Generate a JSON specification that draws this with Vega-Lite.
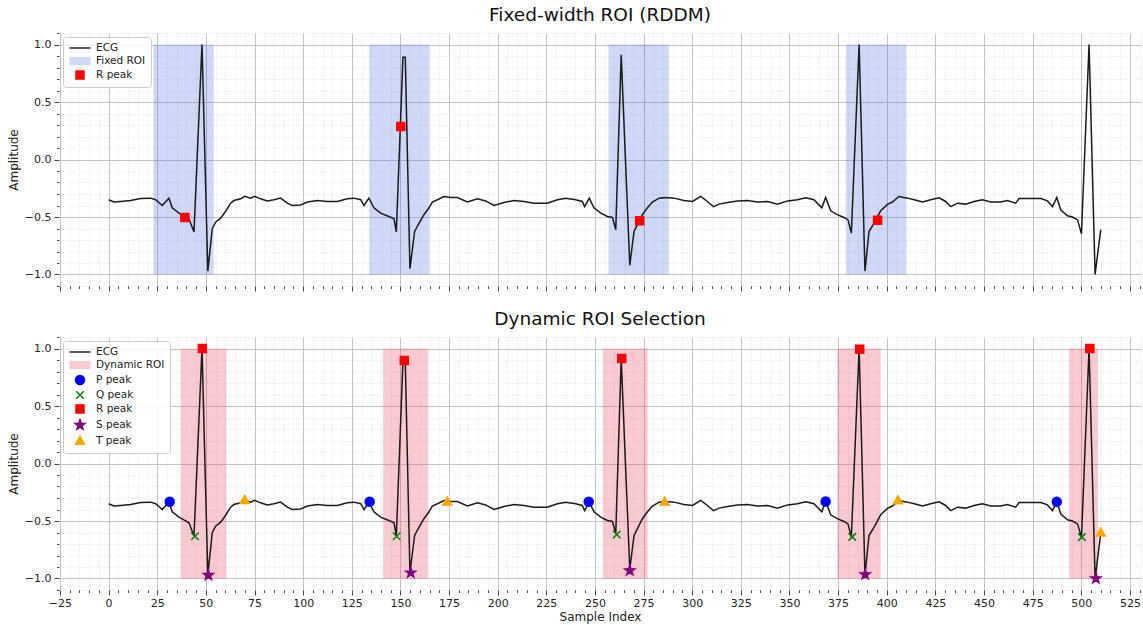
{
  "$schema": "https://vega.github.io/schema/vega-lite/v6.json",
  "padding": {"top": 5, "left": 7, "right": 2, "bottom": 2},
  "config": {
    "font": "DejaVu Sans",
    "view": {"stroke": null},
    "title": {"font": "DejaVu Sans", "fontSize": 18.5, "fontWeight": "normal", "color": "#111", "offset": 3},
    "axis": {"labelFont": "DejaVu Sans", "titleFont": "DejaVu Sans", "labelFontSize": 11, "titleFontSize": 12, "titleFontWeight": "normal", "labelColor": "#222", "titleColor": "#222", "tickColor": "#444", "domain": false, "tickCount": 1000}
  },
  "spacing": 17,
  "resolve": {
    "scale": {"fill": "independent", "stroke": "independent", "shape": "independent"},
    "legend": {"fill": "independent", "stroke": "independent", "shape": "independent"}
  },
  "datasets": {
    "ecg": [
      {"sample": 0, "amplitude": -0.35}, {"sample": 2.7, "amplitude": -0.37}, {"sample": 6.2, "amplitude": -0.365}, {"sample": 11.3, "amplitude": -0.357}, {"sample": 16.5, "amplitude": -0.34}, {"sample": 21.6, "amplitude": -0.336}, {"sample": 24.2, "amplitude": -0.35}, {"sample": 27.6, "amplitude": -0.4}, {"sample": 31, "amplitude": -0.336}, {"sample": 32.7, "amplitude": -0.42}, {"sample": 36.2, "amplitude": -0.467}, {"sample": 38.7, "amplitude": -0.49}, {"sample": 41.3, "amplitude": -0.516}, {"sample": 43.9, "amplitude": -0.63}, {"sample": 48, "amplitude": 1.0}, {"sample": 51, "amplitude": -0.97}, {"sample": 53.3, "amplitude": -0.6}, {"sample": 55, "amplitude": -0.545}, {"sample": 57.6, "amplitude": -0.51}, {"sample": 60.2, "amplitude": -0.45}, {"sample": 62.7, "amplitude": -0.38}, {"sample": 64.4, "amplitude": -0.357}, {"sample": 67.9, "amplitude": -0.342}, {"sample": 69.9, "amplitude": -0.32}, {"sample": 73, "amplitude": -0.336}, {"sample": 75, "amplitude": -0.32}, {"sample": 78.1, "amplitude": -0.342}, {"sample": 81.6, "amplitude": -0.36}, {"sample": 85, "amplitude": -0.35}, {"sample": 88.4, "amplitude": -0.336}, {"sample": 91.9, "amplitude": -0.38}, {"sample": 94.4, "amplitude": -0.4}, {"sample": 98.7, "amplitude": -0.395}, {"sample": 102.2, "amplitude": -0.37}, {"sample": 107.3, "amplitude": -0.357}, {"sample": 112.4, "amplitude": -0.365}, {"sample": 117.6, "amplitude": -0.365}, {"sample": 122.7, "amplitude": -0.342}, {"sample": 126.1, "amplitude": -0.336}, {"sample": 129.6, "amplitude": -0.35}, {"sample": 131.3, "amplitude": -0.4}, {"sample": 133.8, "amplitude": -0.336}, {"sample": 136.4, "amplitude": -0.42}, {"sample": 139.8, "amplitude": -0.467}, {"sample": 144.1, "amplitude": -0.496}, {"sample": 146.7, "amplitude": -0.516}, {"sample": 147.9, "amplitude": -0.63}, {"sample": 151.3, "amplitude": 0.89}, {"sample": 152.5, "amplitude": 0.89}, {"sample": 154.9, "amplitude": -0.95}, {"sample": 157.3, "amplitude": -0.626}, {"sample": 159.6, "amplitude": -0.554}, {"sample": 162.1, "amplitude": -0.48}, {"sample": 164.7, "amplitude": -0.42}, {"sample": 166.4, "amplitude": -0.37}, {"sample": 169, "amplitude": -0.35}, {"sample": 172.4, "amplitude": -0.322}, {"sample": 175.8, "amplitude": -0.33}, {"sample": 179.3, "amplitude": -0.33}, {"sample": 184.4, "amplitude": -0.37}, {"sample": 189.6, "amplitude": -0.342}, {"sample": 193.8, "amplitude": -0.36}, {"sample": 198.1, "amplitude": -0.4}, {"sample": 203.2, "amplitude": -0.374}, {"sample": 208.4, "amplitude": -0.357}, {"sample": 213.5, "amplitude": -0.365}, {"sample": 218.7, "amplitude": -0.38}, {"sample": 225.5, "amplitude": -0.38}, {"sample": 230.7, "amplitude": -0.35}, {"sample": 235, "amplitude": -0.336}, {"sample": 240.1, "amplitude": -0.35}, {"sample": 243.5, "amplitude": -0.365}, {"sample": 244.7, "amplitude": -0.41}, {"sample": 247.1, "amplitude": -0.336}, {"sample": 249.5, "amplitude": -0.42}, {"sample": 253, "amplitude": -0.467}, {"sample": 256.4, "amplitude": -0.496}, {"sample": 259, "amplitude": -0.504}, {"sample": 260.7, "amplitude": -0.61}, {"sample": 263.5, "amplitude": 0.91}, {"sample": 267.9, "amplitude": -0.92}, {"sample": 270.1, "amplitude": -0.626}, {"sample": 271.8, "amplitude": -0.568}, {"sample": 274.4, "amplitude": -0.48}, {"sample": 277, "amplitude": -0.42}, {"sample": 279.5, "amplitude": -0.37}, {"sample": 283, "amplitude": -0.336}, {"sample": 286.4, "amplitude": -0.33}, {"sample": 290.6, "amplitude": -0.336}, {"sample": 295.8, "amplitude": -0.357}, {"sample": 300.1, "amplitude": -0.365}, {"sample": 304.4, "amplitude": -0.32}, {"sample": 307.8, "amplitude": -0.365}, {"sample": 310.9, "amplitude": -0.41}, {"sample": 313.8, "amplitude": -0.388}, {"sample": 318.1, "amplitude": -0.374}, {"sample": 323.2, "amplitude": -0.36}, {"sample": 328.4, "amplitude": -0.357}, {"sample": 333.5, "amplitude": -0.37}, {"sample": 338.7, "amplitude": -0.365}, {"sample": 343.8, "amplitude": -0.388}, {"sample": 349, "amplitude": -0.36}, {"sample": 354.1, "amplitude": -0.35}, {"sample": 358.4, "amplitude": -0.333}, {"sample": 362.6, "amplitude": -0.35}, {"sample": 366.6, "amplitude": -0.42}, {"sample": 368.6, "amplitude": -0.33}, {"sample": 371.2, "amplitude": -0.446}, {"sample": 374.6, "amplitude": -0.48}, {"sample": 378, "amplitude": -0.504}, {"sample": 380.1, "amplitude": -0.525}, {"sample": 381.8, "amplitude": -0.64}, {"sample": 385.8, "amplitude": 1.0}, {"sample": 388.8, "amplitude": -0.97}, {"sample": 390.9, "amplitude": -0.626}, {"sample": 393.5, "amplitude": -0.554}, {"sample": 396.9, "amplitude": -0.446}, {"sample": 400.4, "amplitude": -0.39}, {"sample": 402.9, "amplitude": -0.37}, {"sample": 406.3, "amplitude": -0.322}, {"sample": 410.6, "amplitude": -0.336}, {"sample": 414.1, "amplitude": -0.35}, {"sample": 418.4, "amplitude": -0.37}, {"sample": 422.6, "amplitude": -0.35}, {"sample": 426.9, "amplitude": -0.333}, {"sample": 430.3, "amplitude": -0.365}, {"sample": 432.9, "amplitude": -0.41}, {"sample": 436.4, "amplitude": -0.38}, {"sample": 440.6, "amplitude": -0.388}, {"sample": 444.9, "amplitude": -0.365}, {"sample": 449.2, "amplitude": -0.35}, {"sample": 453.5, "amplitude": -0.37}, {"sample": 458.6, "amplitude": -0.37}, {"sample": 462, "amplitude": -0.357}, {"sample": 466.3, "amplitude": -0.38}, {"sample": 468, "amplitude": -0.34}, {"sample": 474, "amplitude": -0.34}, {"sample": 479.2, "amplitude": -0.34}, {"sample": 482.6, "amplitude": -0.36}, {"sample": 485.2, "amplitude": -0.41}, {"sample": 487.4, "amplitude": -0.33}, {"sample": 489.5, "amplitude": -0.44}, {"sample": 492.9, "amplitude": -0.49}, {"sample": 495.5, "amplitude": -0.5}, {"sample": 498.1, "amplitude": -0.525}, {"sample": 500.1, "amplitude": -0.646}, {"sample": 504, "amplitude": 1.0}, {"sample": 507.1, "amplitude": -1.0}, {"sample": 510, "amplitude": -0.61}
    ],
    "fixed_roi": [
      {"start": 23, "end": 54}, {"start": 134, "end": 165}, {"start": 257, "end": 288}, {"start": 379, "end": 410}
    ],
    "dynamic_roi": [
      {"start": 37, "end": 60.6}, {"start": 141.1, "end": 164.4}, {"start": 254, "end": 277.1}, {"start": 374.6, "end": 396.9}, {"start": 493.7, "end": 508.6}
    ],
    "fixed_peaks": [
      {"sample": 39.2, "amplitude": -0.504, "series": "R peak"}, {"sample": 150.2, "amplitude": 0.287, "series": "R peak"}, {"sample": 273, "amplitude": -0.533, "series": "R peak"}, {"sample": 395.3, "amplitude": -0.528, "series": "R peak"}
    ],
    "dynamic_peaks": [
      {"sample": 31.4, "amplitude": -0.333, "series": "P peak"}, {"sample": 134.2, "amplitude": -0.333, "series": "P peak"}, {"sample": 246.8, "amplitude": -0.333, "series": "P peak"}, {"sample": 368.6, "amplitude": -0.33, "series": "P peak"}, {"sample": 487.4, "amplitude": -0.333, "series": "P peak"},
      {"sample": 44.4, "amplitude": -0.632, "series": "Q peak"}, {"sample": 148.1, "amplitude": -0.632, "series": "Q peak"}, {"sample": 261.2, "amplitude": -0.617, "series": "Q peak"}, {"sample": 382.3, "amplitude": -0.638, "series": "Q peak"}, {"sample": 500.3, "amplitude": -0.64, "series": "Q peak"},
      {"sample": 48.2, "amplitude": 1.0, "series": "R peak"}, {"sample": 152, "amplitude": 0.896, "series": "R peak"}, {"sample": 263.8, "amplitude": 0.913, "series": "R peak"}, {"sample": 386.1, "amplitude": 0.994, "series": "R peak"}, {"sample": 504.4, "amplitude": 1.0, "series": "R peak"},
      {"sample": 51.3, "amplitude": -0.971, "series": "S peak"}, {"sample": 155.3, "amplitude": -0.95, "series": "S peak"}, {"sample": 267.9, "amplitude": -0.93, "series": "S peak"}, {"sample": 388.9, "amplitude": -0.965, "series": "S peak"}, {"sample": 507.5, "amplitude": -1.0, "series": "S peak"},
      {"sample": 69.9, "amplitude": -0.319, "series": "T peak"}, {"sample": 174.1, "amplitude": -0.333, "series": "T peak"}, {"sample": 285.9, "amplitude": -0.333, "series": "T peak"}, {"sample": 405.8, "amplitude": -0.322, "series": "T peak"}, {"sample": 510, "amplitude": -0.603, "series": "T peak"}
    ]
  },
  "vconcat": [
    {
      "title": "Fixed-width ROI (RDDM)",
      "width": 1082,
      "height": 253,
      "layer": [
        {
          "data": {"name": "fixed_roi"},
          "mark": {"type": "rect", "fill": "rgba(65,105,225,0.25)"},
          "encoding": {
            "x": {"field": "start", "type": "quantitative", "scale": {"domain": [-25.5, 530.7], "nice": false, "zero": false},
              "axis": {"values": [-25,-20,-15,-10,-5,0,5,10,15,20,25,30,35,40,45,50,55,60,65,70,75,80,85,90,95,100,105,110,115,120,125,130,135,140,145,150,155,160,165,170,175,180,185,190,195,200,205,210,215,220,225,230,235,240,245,250,255,260,265,270,275,280,285,290,295,300,305,310,315,320,325,330,335,340,345,350,355,360,365,370,375,380,385,390,395,400,405,410,415,420,425,430,435,440,445,450,455,460,465,470,475,480,485,490,495,500,505,510,515,520,525,530],
                "tickCount": 1000, "labels": false, "title": null, "grid": true,
                "gridColor": {"condition": {"test": "datum.value % 25 === 0", "value": "#c2c2c2"}, "value": "#d8d8d8"},
                "gridDash": {"condition": {"test": "datum.value % 25 === 0", "value": []}, "value": [1, 2]},
                "gridWidth": {"condition": {"test": "datum.value % 25 === 0", "value": 1}, "value": 0.8},
                "tickSize": {"condition": {"test": "datum.value % 25 === 0", "value": 5}, "value": 2.5},
                "tickColor": "#444"}},
            "x2": {"field": "end"},
            "y": {"datum": -1, "type": "quantitative", "scale": {"domain": [-1.1, 1.1], "nice": false, "zero": false},
              "axis": {"values": [-1.1,-1,-0.9,-0.8,-0.7,-0.6,-0.5,-0.4,-0.3,-0.2,-0.1,0,0.1,0.2,0.3,0.4,0.5,0.6,0.7,0.8,0.9,1,1.1],
                "tickCount": 1000, "title": "Amplitude", "titlePadding": 4, "labelPadding": 3, "labelOverlap": false, "labelFlush": false, "labelBound": false,
                "labelExpr": "abs(datum.value*2 - round(datum.value*2)) < 0.001 ? replace(format(datum.value, '.1f'), '-', '−') : ''",
                "grid": true,
                "gridColor": {"condition": {"test": "abs(datum.value*2 - round(datum.value*2)) < 0.001", "value": "#c2c2c2"}, "value": "#d8d8d8"},
                "gridDash": {"condition": {"test": "abs(datum.value*2 - round(datum.value*2)) < 0.001", "value": []}, "value": [1, 2]},
                "gridWidth": {"condition": {"test": "abs(datum.value*2 - round(datum.value*2)) < 0.001", "value": 1}, "value": 0.8},
                "tickSize": {"condition": {"test": "abs(datum.value*2 - round(datum.value*2)) < 0.001", "value": 5}, "value": 2.5},
                "tickColor": "#444"}},
            "y2": {"datum": 1}
          }
        },
        {
          "data": {"name": "ecg"},
          "mark": {"type": "line", "color": "#1a1a1a", "strokeWidth": 1.5},
          "encoding": {
            "x": {"field": "sample", "type": "quantitative", "title": "Sample Index"},
            "y": {"field": "amplitude", "type": "quantitative", "title": "Amplitude"}
          }
        },
        {
          "data": {"name": "fixed_peaks"},
          "mark": {"type": "point", "filled": true, "opacity": 1, "size": 100, "strokeWidth": 1.5},
          "encoding": {
            "x": {"field": "sample", "type": "quantitative", "title": "Sample Index"},
            "y": {"field": "amplitude", "type": "quantitative", "title": "Amplitude"},
            "fill": {"field": "series", "type": "nominal",
              "scale": {"domain": ["ECG", "Fixed ROI", "R peak"], "range": ["transparent", "rgba(65,105,225,0.25)", "red"]},
              "legend": {"title": null, "orient": "top-left", "offset": 4, "padding": 5, "rowPadding": 0, "symbolOffset": 6, "labelOffset": 10, "labelFontSize": 10.5, "labelFont": "DejaVu Sans", "labelColor": "#222", "strokeColor": "#cccccc", "fillColor": "rgba(255,255,255,0.85)", "cornerRadius": 3, "symbolSize": 100, "symbolStrokeWidth": 1.5}},
            "stroke": {"field": "series", "type": "nominal",
              "scale": {"domain": ["ECG", "Fixed ROI", "R peak"], "range": ["#222", "transparent", "red"]},
              "legend": {"title": null, "orient": "top-left", "offset": 4, "padding": 5, "rowPadding": 0, "symbolOffset": 6, "labelOffset": 10, "labelFontSize": 10.5, "labelFont": "DejaVu Sans", "labelColor": "#222", "strokeColor": "#cccccc", "fillColor": "rgba(255,255,255,0.85)", "cornerRadius": 3, "symbolSize": 100, "symbolStrokeWidth": 1.5}},
            "shape": {"field": "series", "type": "nominal",
              "scale": {"domain": ["ECG", "Fixed ROI", "R peak"], "range": ["M-2.1,0H2.1", "M-2.1,-0.8H2.1V0.8H-2.1Z", "M-0.8,-0.8H0.8V0.8H-0.8Z"]},
              "legend": {"title": null, "orient": "top-left", "offset": 4, "padding": 5, "rowPadding": 0, "symbolOffset": 6, "labelOffset": 10, "labelFontSize": 10.5, "labelFont": "DejaVu Sans", "labelColor": "#222", "strokeColor": "#cccccc", "fillColor": "rgba(255,255,255,0.85)", "cornerRadius": 3, "symbolSize": 100, "symbolStrokeWidth": 1.5}}
          }
        }
      ]
    },
    {
      "title": "Dynamic ROI Selection",
      "width": 1082,
      "height": 253,
      "layer": [
        {
          "data": {"name": "dynamic_roi"},
          "mark": {"type": "rect", "fill": "rgba(240,80,110,0.3)"},
          "encoding": {
            "x": {"field": "start", "type": "quantitative", "scale": {"domain": [-25.5, 530.7], "nice": false, "zero": false},
              "axis": {"values": [-25,-20,-15,-10,-5,0,5,10,15,20,25,30,35,40,45,50,55,60,65,70,75,80,85,90,95,100,105,110,115,120,125,130,135,140,145,150,155,160,165,170,175,180,185,190,195,200,205,210,215,220,225,230,235,240,245,250,255,260,265,270,275,280,285,290,295,300,305,310,315,320,325,330,335,340,345,350,355,360,365,370,375,380,385,390,395,400,405,410,415,420,425,430,435,440,445,450,455,460,465,470,475,480,485,490,495,500,505,510,515,520,525,530],
                "tickCount": 1000, "title": "Sample Index", "titlePadding": 3, "labelPadding": 2, "labelOverlap": false, "labelFlush": false, "labelBound": false,
                "labelExpr": "datum.value % 25 === 0 ? replace(format(datum.value, 'd'), '-', '−') : ''",
                "grid": true,
                "gridColor": {"condition": {"test": "datum.value % 25 === 0", "value": "#c2c2c2"}, "value": "#d8d8d8"},
                "gridDash": {"condition": {"test": "datum.value % 25 === 0", "value": []}, "value": [1, 2]},
                "gridWidth": {"condition": {"test": "datum.value % 25 === 0", "value": 1}, "value": 0.8},
                "tickSize": {"condition": {"test": "datum.value % 25 === 0", "value": 5}, "value": 2.5},
                "tickColor": "#444"}},
            "x2": {"field": "end"},
            "y": {"datum": -1, "type": "quantitative", "scale": {"domain": [-1.1, 1.1], "nice": false, "zero": false},
              "axis": {"values": [-1.1,-1,-0.9,-0.8,-0.7,-0.6,-0.5,-0.4,-0.3,-0.2,-0.1,0,0.1,0.2,0.3,0.4,0.5,0.6,0.7,0.8,0.9,1,1.1],
                "tickCount": 1000, "title": "Amplitude", "titlePadding": 4, "labelPadding": 3, "labelOverlap": false, "labelFlush": false, "labelBound": false,
                "labelExpr": "abs(datum.value*2 - round(datum.value*2)) < 0.001 ? replace(format(datum.value, '.1f'), '-', '−') : ''",
                "grid": true,
                "gridColor": {"condition": {"test": "abs(datum.value*2 - round(datum.value*2)) < 0.001", "value": "#c2c2c2"}, "value": "#d8d8d8"},
                "gridDash": {"condition": {"test": "abs(datum.value*2 - round(datum.value*2)) < 0.001", "value": []}, "value": [1, 2]},
                "gridWidth": {"condition": {"test": "abs(datum.value*2 - round(datum.value*2)) < 0.001", "value": 1}, "value": 0.8},
                "tickSize": {"condition": {"test": "abs(datum.value*2 - round(datum.value*2)) < 0.001", "value": 5}, "value": 2.5},
                "tickColor": "#444"}},
            "y2": {"datum": 1}
          }
        },
        {
          "data": {"name": "ecg"},
          "mark": {"type": "line", "color": "#1a1a1a", "strokeWidth": 1.5},
          "encoding": {
            "x": {"field": "sample", "type": "quantitative", "title": "Sample Index"},
            "y": {"field": "amplitude", "type": "quantitative", "title": "Amplitude"}
          }
        },
        {
          "data": {"name": "dynamic_peaks"},
          "mark": {"type": "point", "filled": true, "opacity": 1, "size": 100, "strokeWidth": 1.5},
          "encoding": {
            "x": {"field": "sample", "type": "quantitative", "title": "Sample Index"},
            "y": {"field": "amplitude", "type": "quantitative", "title": "Amplitude"},
            "fill": {"field": "series", "type": "nominal",
              "scale": {"domain": ["ECG", "Dynamic ROI", "P peak", "Q peak", "R peak", "S peak", "T peak"], "range": ["transparent", "rgba(240,80,110,0.3)", "blue", "transparent", "red", "purple", "orange"]},
              "legend": {"title": null, "orient": "top-left", "offset": 4, "padding": 5, "rowPadding": 0, "symbolOffset": 6, "labelOffset": 10, "labelFontSize": 10.5, "labelFont": "DejaVu Sans", "labelColor": "#222", "strokeColor": "#cccccc", "fillColor": "rgba(255,255,255,0.85)", "cornerRadius": 3, "symbolSize": 100, "symbolStrokeWidth": 1.5}},
            "stroke": {"field": "series", "type": "nominal",
              "scale": {"domain": ["ECG", "Dynamic ROI", "P peak", "Q peak", "R peak", "S peak", "T peak"], "range": ["#222", "transparent", "blue", "green", "red", "purple", "orange"]},
              "legend": {"title": null, "orient": "top-left", "offset": 4, "padding": 5, "rowPadding": 0, "symbolOffset": 6, "labelOffset": 10, "labelFontSize": 10.5, "labelFont": "DejaVu Sans", "labelColor": "#222", "strokeColor": "#cccccc", "fillColor": "rgba(255,255,255,0.85)", "cornerRadius": 3, "symbolSize": 100, "symbolStrokeWidth": 1.5}},
            "shape": {"field": "series", "type": "nominal",
              "scale": {"domain": ["ECG", "Dynamic ROI", "P peak", "Q peak", "R peak", "S peak", "T peak"],
                "range": ["M-2.1,0H2.1", "M-2.1,-0.8H2.1V0.8H-2.1Z", "M-0.9,0A0.9,0.9,0,1,1,0.9,0A0.9,0.9,0,1,1,-0.9,0Z", "M-0.75,-0.75L0.75,0.75M-0.75,0.75L0.75,-0.75", "M-0.8,-0.8H0.8V0.8H-0.8Z", "M0,-1.05L0.247,-0.34L1,-0.324L0.399,0.13L0.617,0.85L0,0.42L-0.617,0.85L-0.399,0.13L-1,-0.324L-0.247,-0.34Z", "M0,-0.95L0.9,0.65H-0.9Z"]},
              "legend": {"title": null, "orient": "top-left", "offset": 4, "padding": 5, "rowPadding": 0, "symbolOffset": 6, "labelOffset": 10, "labelFontSize": 10.5, "labelFont": "DejaVu Sans", "labelColor": "#222", "strokeColor": "#cccccc", "fillColor": "rgba(255,255,255,0.85)", "cornerRadius": 3, "symbolSize": 100, "symbolStrokeWidth": 1.5}}
          }
        }
      ]
    }
  ]
}
